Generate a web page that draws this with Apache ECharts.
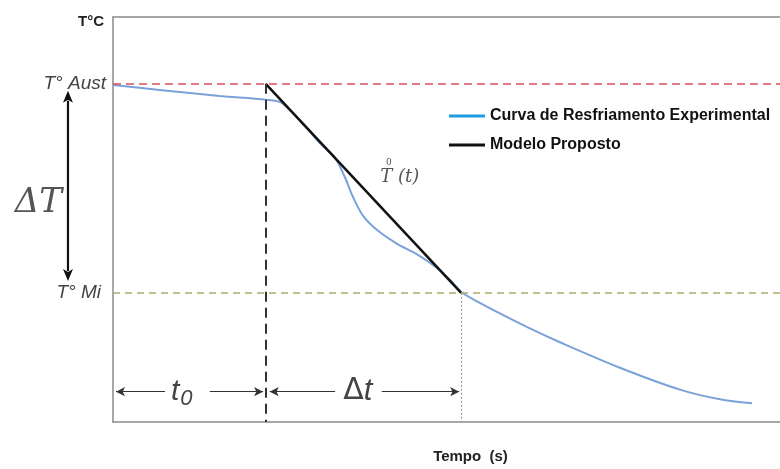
<!DOCTYPE html>
<html>
<head>
<meta charset="utf-8">
<script src="https://cdn.jsdelivr.net/npm/echarts@6/dist/echarts.min.js"></script>
<style>
  html, body { margin: 0; padding: 0; background: #fff; }
  #chart { width: 780px; height: 469px; }
</style>
</head>
<body>
<div id="chart"></div>
<script>
// time (arbitrary units) and temperature (arbitrary units)
const curveTime = [0, 7, 16, 22.9, 25.3, 28.8, 31, 33.3, 34.8, 36, 37.5, 39.6, 42.6, 45.6, 48.6, 51, 52.2, 55, 58, 62.5, 67, 76, 85, 91, 95.8]
const curveTemp = [83.2, 82, 80.5, 79.6, 78.8, 73, 68.9, 65.2, 60.3, 55.5, 50.9, 47.4, 44, 41.4, 38, 34.3, 32.1, 29.4, 26.8, 23.1, 19.7, 13.4, 8, 5.6, 4.6]
const modelTime = [22.9, 52.2]
const modelTemp = [83.5, 31.9]
const tAust = 83.5
const tMi = 31.9
const t0 = 22.9
const t1 = 52.2

const curveName = 'Curva de Resfriamento Experimental'
const modelName = 'Modelo Proposto'

const chart = echarts.init(document.getElementById('chart'))

const curveData = curveTime.map((t, i) => [t, curveTemp[i]])
const modelData = modelTime.map((t, i) => [t, modelTemp[i]])

const arrowY = 7.5
const labelColor = '#444'
const frame = { show: true, lineStyle: { color: '#8a8a8a', width: 1.5 } }

chart.setOption({
  animation: false,
  grid: { left: 113, right: 0, top: 17, bottom: 41 },
  legend: {
    orient: 'vertical',
    left: 444, top: 103,
    itemWidth: 36, itemHeight: 3, itemGap: 13,
    icon: 'rect',
    textStyle: { fontFamily: 'Liberation Sans', fontWeight: 'bold', fontSize: 16, color: '#111' },
    data: [
      { name: curveName, itemStyle: { color: '#1f9ce0' } },
      { name: modelName, itemStyle: { color: '#111' } }
    ]
  },
  xAxis: [
    {
      type: 'value', min: 0, max: 100,
      name: 'Tempo  (s)', nameLocation: 'middle', nameGap: 27,
      nameTextStyle: { fontFamily: 'Liberation Sans', fontWeight: 'bold', fontSize: 15, color: '#222', padding: [0, 0, 0, 48] },
      axisLine: frame,
      axisTick: { show: false }, axisLabel: { show: false }, splitLine: { show: false }
    },
    {
      type: 'value', min: 0, max: 100, position: 'top',
      axisLine: frame,
      axisTick: { show: false }, axisLabel: { show: false }, splitLine: { show: false }
    }
  ],
  yAxis: {
    type: 'value', min: 0, max: 100,
    axisLine: frame,
    axisTick: { show: false }, axisLabel: { show: false }, splitLine: { show: false }
  },
  series: [
    {
      name: curveName,
      type: 'line',
      data: curveData,
      smooth: 0.3,
      showSymbol: false,
      z: 3,
      lineStyle: { color: '#7aa2d8', width: 2 },
      itemStyle: { color: '#7aa2d8' },
      markLine: {
        silent: true,
        symbol: ['none', 'none'],
        animation: false,
        data: [
          {
            yAxis: tAust,
            lineStyle: { color: '#d9505a', type: [8, 5], width: 1.5 },
            label: { show: true, position: 'start', distance: 7, formatter: 'T° Aust',
              fontFamily: 'Liberation Sans', fontStyle: 'italic', fontSize: 19, color: labelColor }
          },
          {
            yAxis: tMi,
            lineStyle: { color: '#a9ad6a', type: [7, 5], width: 1.5 },
            label: { show: true, position: 'start', distance: 12, formatter: 'T° Mi',
              fontFamily: 'Liberation Sans', fontStyle: 'italic', fontSize: 19, color: labelColor }
          },
          [
            { coord: [t0, tAust], lineStyle: { color: '#333', type: [10, 6], width: 2 }, label: { show: false } },
            { coord: [t0, 0] }
          ],
          [
            { coord: [t1, tMi], lineStyle: { color: '#999', type: [2, 2], width: 1.2 }, label: { show: false } },
            { coord: [t1, 0] }
          ],
          // t0 horizontal arrow pieces
          [
            { coord: [0.45, arrowY], symbol: 'arrow', symbolSize: [7, 9], lineStyle: { color: '#333', type: 'solid', width: 1.2 }, label: { show: false } },
            { coord: [7.8, arrowY], symbol: 'none' }
          ],
          [
            { coord: [14.5, arrowY], symbol: 'none', lineStyle: { color: '#333', type: 'solid', width: 1.2 }, label: { show: false } },
            { coord: [22.5, arrowY], symbol: 'arrow', symbolSize: [7, 9] }
          ],
          // Δt horizontal arrow pieces
          [
            { coord: [23.5, arrowY], symbol: 'arrow', symbolSize: [7, 9], lineStyle: { color: '#333', type: 'solid', width: 1.2 }, label: { show: false } },
            { coord: [33.3, arrowY], symbol: 'none' }
          ],
          [
            { coord: [40.3, arrowY], symbol: 'none', lineStyle: { color: '#333', type: 'solid', width: 1.2 }, label: { show: false } },
            { coord: [51.9, arrowY], symbol: 'arrow', symbolSize: [7, 9] }
          ]
        ]
      },
      markPoint: {
        silent: true,
        symbol: 'circle',
        symbolSize: 0,
        animation: false,
        data: [
          {
            coord: [10.3, arrowY],
            label: { show: true, position: 'inside', formatter: '{t|t}{s|0}',
              rich: {
                t: { fontFamily: 'Liberation Sans', fontStyle: 'italic', fontSize: 30, color: labelColor },
                s: { fontFamily: 'Liberation Sans', fontStyle: 'italic', fontSize: 22, color: labelColor, verticalAlign: 'bottom', padding: [14, 0, 0, 1] }
              } }
          },
          {
            coord: [36.7, arrowY],
            label: { show: true, position: 'inside', formatter: '{d|Δ}{t|t}',
              rich: {
                d: { fontFamily: 'DejaVu Sans', fontSize: 30, color: labelColor },
                t: { fontFamily: 'Liberation Sans', fontStyle: 'italic', fontSize: 31, color: labelColor }
              } }
          },
          {
            coord: [43.0, 61.6],
            label: { show: true, position: 'inside', align: 'center', formatter: '{s|0}\n{m|T (t)}',
              rich: {
                s: { fontFamily: 'DejaVu Serif', fontSize: 9, color: '#555', padding: [0, 22, 0, 0], lineHeight: 9 },
                m: { fontFamily: 'DejaVu Serif', fontStyle: 'italic', fontSize: 18, color: '#555', lineHeight: 20 }
              } }
          }
        ]
      }
    },
    {
      name: modelName,
      type: 'line',
      data: modelData,
      showSymbol: false,
      z: 4,
      lineStyle: { color: '#111', width: 2.5 },
      itemStyle: { color: '#111' }
    }
  ]
})

// ΔT double arrow sits left of the axis, outside the grid, so it is drawn as graphic
const dT = { x: -6.75, top: 81.8, bottom: 34.8, labelX: -11.2, labelY: 54 }
const pTop = chart.convertToPixel({ xAxisIndex: 0, yAxisIndex: 0 }, [dT.x, dT.top])
const pBot = chart.convertToPixel({ xAxisIndex: 0, yAxisIndex: 0 }, [dT.x, dT.bottom])
const pLab = chart.convertToPixel({ xAxisIndex: 0, yAxisIndex: 0 }, [dT.labelX, dT.labelY])
const head = 12, half = 5

chart.setOption({
  graphic: [
    {
      type: 'text', left: 78, top: 14,
      style: { text: 'T°C', font: 'bold 15px "Liberation Sans"', fill: '#222' }
    },
    {
      type: 'line',
      shape: { x1: pTop[0], y1: pTop[1] + head - 2, x2: pBot[0], y2: pBot[1] - head + 2 },
      style: { stroke: '#111', lineWidth: 2.2 }
    },
    {
      type: 'polygon',
      shape: { points: [[pTop[0], pTop[1]], [pTop[0] - half, pTop[1] + head], [pTop[0], pTop[1] + head - 3], [pTop[0] + half, pTop[1] + head]] },
      style: { fill: '#111' }
    },
    {
      type: 'polygon',
      shape: { points: [[pBot[0], pBot[1]], [pBot[0] - half, pBot[1] - head], [pBot[0], pBot[1] - head + 3], [pBot[0] + half, pBot[1] - head]] },
      style: { fill: '#111' }
    },
    {
      type: 'text', x: pLab[0], y: pLab[1],
      style: { text: 'ΔT', font: 'italic 34px "DejaVu Serif"', fill: '#555', align: 'center', verticalAlign: 'middle' }
    }
  ]
})

window.onresize = function () {
  chart.resize()
}
</script>
</body>
</html>
